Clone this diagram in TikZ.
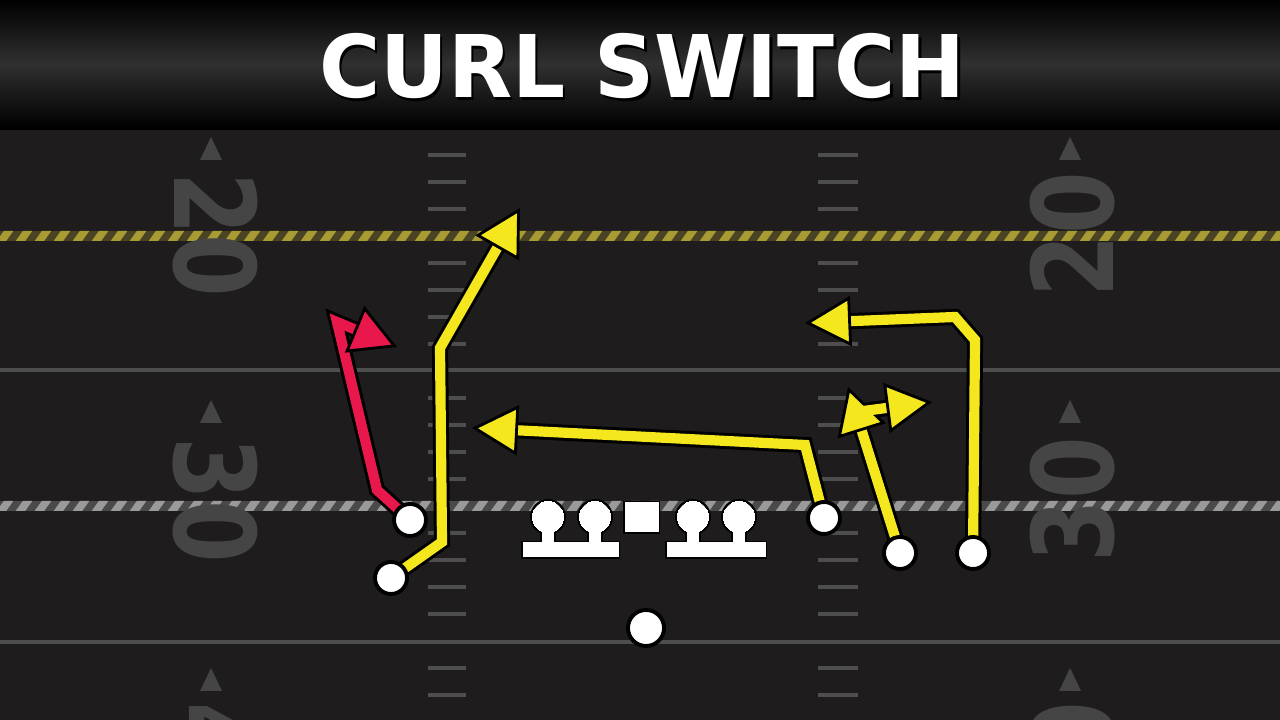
\documentclass[tikz,border=0pt]{standalone}
\usepackage{fontspec}
\setmainfont{DejaVu Sans}
\newfontfamily\titlefont{DejaVu Sans}
\newfontfamily\yardfont{DejaVu Sans}
\usetikzlibrary{arrows.meta}

\definecolor{turf}{HTML}{1E1C1D}
\definecolor{headgray}{HTML}{303030}
\definecolor{linegray}{HTML}{4E4E4E}
\definecolor{numgray}{HTML}{454545}
\definecolor{ropeyellow}{HTML}{A89B33}
\definecolor{ropeyellowbase}{HTML}{4A4424}
\definecolor{ropegray}{HTML}{9A9A9A}
\definecolor{ropegraybase}{HTML}{4A4A4A}
\definecolor{routeyellow}{HTML}{F5E71E}
\definecolor{routered}{HTML}{E8184C}

\pgfdeclarelayer{field}
\pgfdeclarelayer{routes}
\pgfsetlayers{field,routes,main}

\tikzset{
  yardline/.style={linegray, line width=1.4pt},
  hashmark/.style={linegray, line width=0.9pt},
  ropestripe/.style={line width=2.2pt},
  yardnum/.style={text=numgray, font=\yardfont\bfseries\fontsize{32}{32}\selectfont, inner sep=0pt},
  titletext/.style={text=white, font=\titlefont\bfseries\fontsize{24.6}{26}\selectfont, inner sep=0pt},
  player/.style={circle, fill=white, draw=black, line width=1.1pt, minimum size=0.32cm, inner sep=0pt},
  routeedge/.style={draw=black, line width=4.6pt, line join=miter, shorten >=0.35cm},
  route/.style={draw=#1, line width=2.9pt, line join=miter,
    -{Triangle[length=0.46cm, width=0.5cm, color=black, fill=#1, line width=0.8pt]}},
  route/.default=routeyellow
}
\newcommand\routepath[2]{\draw[routeedge] #2; \draw[route=#1] #2;}

\begin{document}
\begin{tikzpicture}
\useasboundingbox (0,0) rectangle (12.8,7.2);
\clip (0,0) rectangle (12.8,7.2);

\begin{pgfonlayer}{field}
% draw turf
\fill[turf] (0,0) rectangle (12.8,7.2);
% draw yard lines
\draw[yardline] (0,3.50) -- (12.8,3.50);
\draw[yardline] (0,0.78) -- (12.8,0.78);
% draw rope lines
\fill[ropeyellowbase] (0,4.79) rectangle (12.8,4.89);
\fill[ropegraybase] (0,2.09) rectangle (12.8,2.19);
\begin{scope}
\clip (0,4.79) rectangle (12.8,4.89) (0,2.09) rectangle (12.8,2.19);
\foreach \x in {0,0.19,...,12.9} {
  \draw[ropestripe, ropeyellow] (\x,4.77) -- (\x+0.1,4.91);
  \draw[ropestripe, ropegray] (\x,2.07) -- (\x+0.1,2.21);
}
\end{scope}
% draw hash marks
\foreach \k in {-3,-2,-1,1,2,3,4,6,7,8,9,11,12,13,14,16,17} {
  \draw[hashmark] (4.28,{4.84-0.27*\k}) -- (4.66,{4.84-0.27*\k});
  \draw[hashmark] (8.18,{4.84-0.27*\k}) -- (8.58,{4.84-0.27*\k});
}
% draw yard numbers
\node[yardnum, rotate=-90] (num20l) at (2.15,4.85) {\scalebox{0.8}[1]{20}};
\node[yardnum, rotate=-90] (num30l) at (2.15,2.20) {\scalebox{0.8}[1]{30}};
\node[yardnum, rotate=-90] (num40l) at (2.15,-0.45) {\scalebox{0.8}[1]{40}};
\node[yardnum, rotate=90] (num20r) at (10.73,4.85) {\scalebox{0.8}[1]{20}};
\node[yardnum, rotate=90] (num30r) at (10.73,2.20) {\scalebox{0.8}[1]{30}};
\node[yardnum, rotate=90] (num40r) at (10.73,-0.45) {\scalebox{0.8}[1]{40}};
% draw direction triangles
\foreach \y in {5.83,3.20,0.52} {
  \fill[numgray] (2.11,\y) -- (2.22,\y-0.23) -- (2.00,\y-0.23) -- cycle;
  \fill[numgray] (10.70,\y) -- (10.81,\y-0.23) -- (10.59,\y-0.23) -- cycle;
}
% draw header band
\shade[top color=black, bottom color=black, middle color=headgray] (0,5.92) rectangle (12.8,7.2);
\draw[black, line width=1pt] (0,5.92) -- (12.8,5.92);
\end{pgfonlayer}

% draw title
\node[titletext, text=black] (titleshadow) at (6.45,6.505) {\scalebox{0.965}[1]{CURL SWITCH}};
\node[titletext] (title) at (6.425,6.54) {\scalebox{0.965}[1]{CURL SWITCH}};

% draw receivers and backfield
\node[player] (slotl) at (4.10,2.00) {};
\node[player] (widel) at (3.91,1.42) {};
\node[player] (slotr) at (8.24,2.02) {};
\node[player] (inr) at (9.00,1.67) {};
\node[player] (wider) at (9.73,1.67) {};
\node[player, minimum size=0.36cm] (qb) at (6.46,0.92) {};

% draw offensive line (outline pass, then fill pass)
\foreach \c/\w in {black/1.4pt, white/0pt} {
  \foreach \x in {5.48,5.95,6.93,7.39} {
    \path[fill=\c, draw=\c, line width=\w] (\x,2.03) circle (0.155);
    \path[fill=\c, draw=\c, line width=\w] (\x-0.055,1.70) rectangle (\x+0.055,1.95);
  }
  \path[fill=\c, draw=\c, line width=\w] (5.23,1.63) rectangle (6.18,1.77);
  \path[fill=\c, draw=\c, line width=\w] (6.67,1.63) rectangle (7.65,1.77);
  \path[fill=\c, draw=\c, line width=\w] (6.25,1.88) rectangle (6.58,2.17);
}

\begin{pgfonlayer}{routes}
% route points
\coordinate (red1) at (3.77,2.30);
\coordinate (red2) at (3.37,3.98);
\coordinate (redtip) at (3.97,3.73);
\coordinate (go1) at (4.42,1.78);
\coordinate (go2) at (4.40,3.72);
\coordinate (gotip) at (5.20,5.12);
\coordinate (drag1) at (8.05,2.75);
\coordinate (dragtip) at (4.72,2.92);
\coordinate (curltip) at (8.48,3.33);
\coordinate (switch1) at (8.56,3.08);
\coordinate (switchtip) at (9.32,3.18);
\coordinate (comeback1) at (9.75,3.80);
\coordinate (comeback2) at (9.55,4.03);
\coordinate (comebacktip) at (8.05,3.97);
% draw routes
\routepath{routered}{(slotl.center) -- (red1) -- (red2) -- (redtip)}
\routepath{routeyellow}{(widel.center) -- (go1) -- (go2) -- (gotip)}
\routepath{routeyellow}{(slotr.center) -- (drag1) -- (dragtip)}
\routepath{routeyellow}{(wider.center) -- (comeback1) -- (comeback2) -- (comebacktip)}
\draw[routeedge] (inr.center) -- (curltip);
\draw[routeedge] (switch1) -- (switchtip);
\draw[route] (inr.center) -- (curltip);
\draw[route] (switch1) -- (switchtip);
\end{pgfonlayer}
\end{tikzpicture}
\end{document}
